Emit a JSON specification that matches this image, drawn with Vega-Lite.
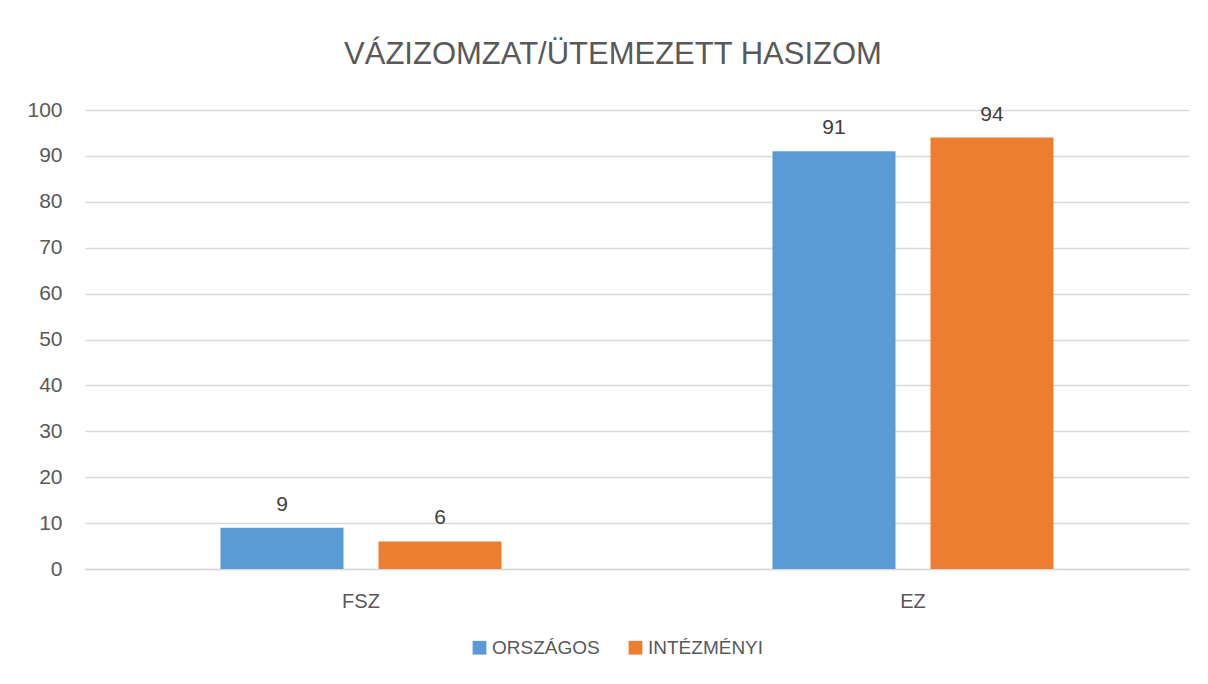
{
  "$schema": "https://vega.github.io/schema/vega-lite/v6.json",
  "width": 1104,
  "height": 459,
  "autosize": "none",
  "padding": {"left": 85, "top": 110, "right": 19, "bottom": 115},
  "background": "white",
  "title": {
    "text": "VÁZIZOMZAT/ÜTEMEZETT HASIZOM",
    "fontSize": 31,
    "font": "Liberation Sans",
    "fontWeight": "normal",
    "color": "#595959",
    "anchor": "middle",
    "dx": -24,
    "offset": 28
  },
  "data": {
    "values": [
      {"kategoria": "FSZ", "sorozat": "ORSZÁGOS", "ertek": 9},
      {"kategoria": "FSZ", "sorozat": "INTÉZMÉNYI", "ertek": 6},
      {"kategoria": "EZ", "sorozat": "ORSZÁGOS", "ertek": 91},
      {"kategoria": "EZ", "sorozat": "INTÉZMÉNYI", "ertek": 94}
    ]
  },
  "encoding": {
    "x": {
      "field": "kategoria",
      "type": "nominal",
      "sort": ["FSZ", "EZ"],
      "title": null,
      "scale": {"paddingInner": 0.491, "paddingOuter": 0.2455},
      "axis": {
        "labelAngle": 0,
        "labelFontSize": 20,
        "labelFont": "Liberation Sans",
        "labelColor": "#595959",
        "labelPadding": 22,
        "ticks": false,
        "domain": true,
        "domainColor": "#d9d9d9",
        "domainWidth": 1.5,
        "grid": false
      }
    },
    "xOffset": {
      "field": "sorozat",
      "type": "nominal",
      "sort": ["ORSZÁGOS", "INTÉZMÉNYI"],
      "scale": {"paddingInner": 0.2215, "paddingOuter": 0}
    },
    "y": {
      "field": "ertek",
      "type": "quantitative",
      "title": null,
      "scale": {"domain": [0, 100]},
      "axis": {
        "values": [0, 10, 20, 30, 40, 50, 60, 70, 80, 90, 100],
        "labelFontSize": 21,
        "labelFont": "Liberation Sans",
        "labelColor": "#595959",
        "labelPadding": 23,
        "ticks": false,
        "domain": false,
        "gridColor": "#d9d9d9",
        "gridWidth": 1.5
      }
    }
  },
  "layer": [
    {
      "mark": {"type": "bar"},
      "encoding": {
        "color": {
          "field": "sorozat",
          "type": "nominal",
          "sort": ["ORSZÁGOS", "INTÉZMÉNYI"],
          "scale": {"domain": ["ORSZÁGOS", "INTÉZMÉNYI"], "range": ["#5B9BD5", "#ED7D31"]},
          "legend": {
            "title": null,
            "orient": "none",
            "direction": "horizontal",
            "legendX": 385,
            "legendY": 528,
            "symbolType": "square",
            "symbolSize": 190,
            "symbolStrokeWidth": 0,
            "labelFontSize": 19,
            "labelFont": "Liberation Sans",
            "labelColor": "#595959",
            "labelOffset": 3,
            "columnPadding": 26
          }
        }
      }
    },
    {
      "mark": {
        "type": "text",
        "baseline": "alphabetic",
        "dy": -17,
        "fontSize": 21,
        "font": "Liberation Sans",
        "color": "#404040"
      },
      "encoding": {
        "text": {"field": "ertek", "type": "quantitative"}
      }
    }
  ],
  "config": {
    "view": {"stroke": null}
  }
}
